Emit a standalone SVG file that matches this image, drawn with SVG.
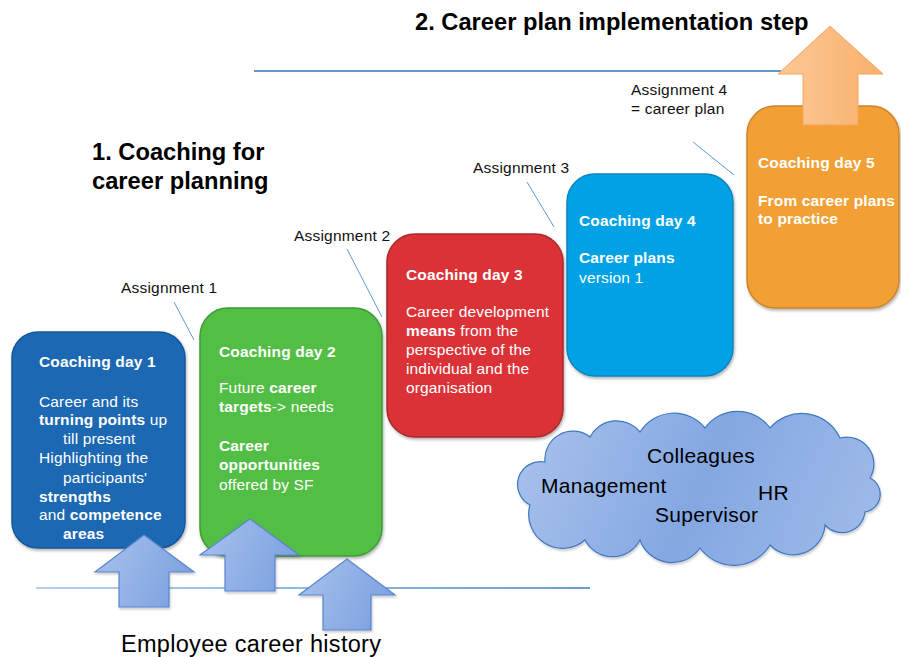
<svg xmlns="http://www.w3.org/2000/svg" width="901" height="657" viewBox="0 0 901 657">
<defs>
<linearGradient id="blueArrow" x1="0" y1="0" x2="1" y2="0.3">
<stop offset="0" stop-color="#A9C2EC"/><stop offset="1" stop-color="#7FA3E1"/>
</linearGradient>
<linearGradient id="cloudFill" gradientUnits="userSpaceOnUse" x1="515" y1="413" x2="883" y2="563">
<stop offset="0" stop-color="#ABC3EC"/><stop offset="0.5" stop-color="#84A7E2"/><stop offset="1" stop-color="#A2BCE9"/>
</linearGradient>
<linearGradient id="orangeArrow" x1="0" y1="0" x2="1" y2="0">
<stop offset="0" stop-color="#FCC896"/><stop offset="1" stop-color="#F8B06C"/>
</linearGradient>
<linearGradient id="baseLine" gradientUnits="userSpaceOnUse" x1="36" y1="0" x2="590" y2="0">
<stop offset="0" stop-color="#9DC0E6"/><stop offset="1" stop-color="#3A7CC0"/>
</linearGradient>
<filter id="sh" x="-10%" y="-10%" width="120%" height="120%">
<feDropShadow dx="1" dy="2" stdDeviation="1.5" flood-color="#000" flood-opacity="0.3"/>
</filter>
<filter id="sh2" x="-10%" y="-10%" width="120%" height="120%">
<feDropShadow dx="1" dy="2" stdDeviation="1" flood-color="#000" flood-opacity="0.2"/>
</filter>
</defs>
<style>
text{font-family:"Liberation Sans",Arial,sans-serif;}
.title{font-size:23.7px;font-weight:bold;fill:#000;}
.box{font-size:15.5px;fill:#fff;letter-spacing:0.15px;}
.b{font-weight:bold;}
.asg{font-size:15.5px;fill:#111;letter-spacing:0.2px;}
.cl{font-size:21px;fill:#000;letter-spacing:0.3px;}
.conn{stroke:#5B9BD5;stroke-width:1;fill:none;}
.barrow{fill:url(#blueArrow);stroke:#5A86CF;stroke-width:1.2;filter:url(#sh2);}
</style>
<rect width="901" height="657" fill="#fff"/>

<g id="lines">
<line x1="254" y1="71" x2="790" y2="71" stroke="#2E75B6" stroke-width="1.3"/>
<line x1="36" y1="588" x2="590" y2="588" stroke="url(#baseLine)" stroke-width="1.5"/>
</g>

<g id="titles">
<text class="title" x="415" y="30">2. Career plan implementation step</text>
<text class="title" x="92" y="160">1. Coaching for</text>
<text class="title" x="92" y="189">career planning</text>
</g>

<g id="connectors">
<line class="conn" x1="174" y1="302" x2="194" y2="340"/>
<line class="conn" x1="347" y1="249" x2="382" y2="317"/>
<line class="conn" x1="527" y1="182" x2="554" y2="227"/>
<line class="conn" x1="693" y1="142" x2="734" y2="175"/>
</g>

<g id="assignment1"><text class="asg" x="121" y="293">Assignment 1</text></g>
<g id="assignment2"><text class="asg" x="294" y="241">Assignment 2</text></g>
<g id="assignment3"><text class="asg" x="473" y="173">Assignment 3</text></g>
<g id="assignment4"><text class="asg" x="631" y="95">Assignment 4</text><text class="asg" x="631" y="114">= career plan</text></g>

<g id="day1">
<rect x="12" y="332" width="173" height="216" rx="26" fill="#1F68B2" stroke="#17579A" stroke-width="1.5" filter="url(#sh)"/>
<text class="box b" x="39" y="367">Coaching day 1</text>
<text class="box" x="39" y="407">Career and its</text>
<text class="box" x="39" y="425"><tspan class="b">turning points</tspan> up</text>
<text class="box" x="63" y="444">till present</text>
<text class="box" x="39" y="463">Highlighting the</text>
<text class="box" x="63" y="483">participants'</text>
<text class="box b" x="39" y="502">strengths</text>
<text class="box" x="39" y="520">and <tspan class="b">competence</tspan></text>
<text class="box b" x="63" y="539">areas</text>
</g>

<g id="day2">
<rect x="200" y="308" width="182" height="248" rx="28" fill="#52BE45" stroke="#3E9C34" stroke-width="1.5" filter="url(#sh)"/>
<text class="box b" x="219" y="357">Coaching day 2</text>
<text class="box" x="219" y="393">Future <tspan class="b">career</tspan></text>
<text class="box" x="219" y="412"><tspan class="b">targets</tspan>-&gt; needs</text>
<text class="box b" x="219" y="451">Career</text>
<text class="box b" x="219" y="470">opportunities</text>
<text class="box" x="219" y="490">offered by SF</text>
</g>

<g id="day3">
<rect x="387" y="234" width="176" height="203" rx="28" fill="#DB3237" stroke="#A92A2E" stroke-width="1.5" filter="url(#sh)"/>
<text class="box b" x="406" y="280">Coaching day 3</text>
<text class="box" x="406" y="317">Career development</text>
<text class="box" x="406" y="336"><tspan class="b">means</tspan> from the</text>
<text class="box" x="406" y="355">perspective of the</text>
<text class="box" x="406" y="374">individual and the</text>
<text class="box" x="406" y="393">organisation</text>
</g>

<g id="day4">
<rect x="567" y="174" width="166" height="202" rx="28" fill="#00A2E5" stroke="#0A84BF" stroke-width="1.5" filter="url(#sh)"/>
<text class="box b" x="579" y="226">Coaching day 4</text>
<text class="box b" x="579" y="263">Career plans</text>
<text class="box" x="579" y="283">version 1</text>
</g>

<g id="day5">
<rect x="747" y="106" width="152" height="202" rx="28" fill="#F29F36" stroke="#CB852C" stroke-width="1.5" filter="url(#sh)"/>
<text class="box b" x="758" y="168">Coaching day 5</text>
<text class="box b" x="758" y="206">From career plans</text>
<text class="box b" x="758" y="224">to practice</text>
</g>

<g id="implementation-arrow">
<polygon points="830,26 883,74 858,74 858,125 803,125 803,74 778,74" fill="url(#orangeArrow)" stroke="#F5A55C" stroke-width="1"/>
</g>

<g id="history-arrows">
<polygon class="barrow" points="144,535 194,572 169,572 169,607 119,607 119,572 95,572"/>
<polygon class="barrow" points="250,519 299,555 275,555 275,591 225,591 225,555 200,555"/>
<polygon class="barrow" points="347,559 395,595 371,595 371,630 323,630 323,595 299,595"/>
</g>

<g id="history-label">
<text x="121" y="652" style="font-size:23.5px;fill:#000;letter-spacing:0.3px;">Employee career history</text>
</g>

<g id="stakeholders">
<path d="M530,505 A23,23 0 0 1 545,462 A28,28 0 0 1 590,437 A30,30 0 0 1 640,432 A40,40 0 0 1 705,428 A40,40 0 0 1 770,428 A42,42 0 0 1 840,438 A27,27 0 0 1 870,478 A18,18 0 0 1 865,512 A23,23 0 0 1 825,525 A32,32 0 0 1 770,545 A42,42 0 0 1 700,548 A34,34 0 0 1 640,540 A31,31 0 0 1 585,540 A34,34 0 0 1 530,505 Z" fill="url(#cloudFill)" stroke="#3F78C0" stroke-width="1.2" filter="url(#sh2)"/>
<text class="cl" x="647" y="463">Colleagues</text>
<text class="cl" x="541" y="493">Management</text>
<text class="cl" x="758" y="500">HR</text>
<text class="cl" x="655" y="522">Supervisor</text>
</g>
</svg>
